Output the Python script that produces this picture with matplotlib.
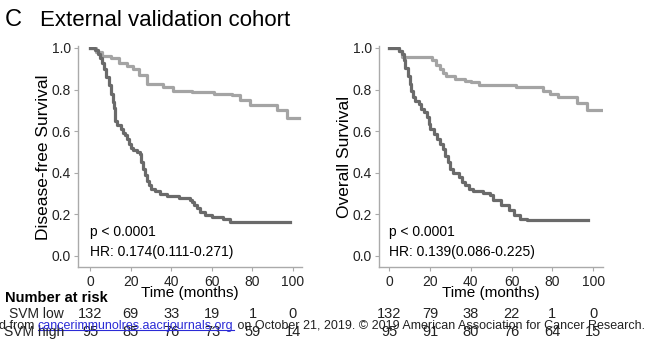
import matplotlib
matplotlib.use("Agg")
import matplotlib.pyplot as plt
import matplotlib.transforms as mtransforms
from matplotlib.lines import Line2D

plt.rcParams['font.family'] = ['Liberation Sans', 'DejaVu Sans']

# Disease-free survival (left panel)
dfs_high_t = [0, 3, 6, 10, 14, 18, 21, 24, 28, 36, 41, 50, 61, 70, 74, 79, 92, 97, 103]
dfs_high_s = [1.0, 0.98, 0.96, 0.95, 0.93, 0.915, 0.90, 0.87, 0.825, 0.81, 0.795, 0.79, 0.78, 0.775, 0.75, 0.725, 0.70, 0.665, 0.665]
dfs_low_t = [0, 2.5, 4, 5, 6, 7, 8, 9, 10, 11, 11.5, 12.3, 13, 15, 16, 17, 18, 19, 20, 21, 23, 24.6,
             25, 26, 27, 28, 29, 30, 32, 34.5, 38, 44, 49, 50, 51, 52.5, 54, 56.6, 60, 65.7, 69, 98.5]
dfs_low_s = [1.0, 0.99, 0.97, 0.95, 0.93, 0.90, 0.86, 0.82, 0.78, 0.74, 0.71, 0.65, 0.63, 0.61, 0.59, 0.58,
             0.56, 0.54, 0.52, 0.51, 0.50, 0.49, 0.45, 0.42, 0.39, 0.36, 0.34, 0.32, 0.31, 0.30, 0.29, 0.28,
             0.27, 0.26, 0.245, 0.23, 0.21, 0.195, 0.185, 0.18, 0.165, 0.165]

# Overall survival (right panel)
os_high_t = [0, 4.6, 6.2, 21, 23, 25, 26.5, 28, 32, 37, 40, 44, 62, 75.6, 79, 83, 92, 97, 105]
os_high_s = [1.0, 0.985, 0.957, 0.94, 0.92, 0.90, 0.88, 0.866, 0.853, 0.842, 0.834, 0.82, 0.81, 0.794,
             0.778, 0.762, 0.734, 0.703, 0.703]
os_low_t = [0, 4.6, 6.2, 7, 7.8, 9, 10, 10.8, 11.6, 12.7, 14.4, 15.5, 16.8, 18.5, 19.3, 20, 21.7, 23.4,
            25, 26.3, 27.5, 28.6, 29.6, 31.5, 34, 35.6, 37.3, 39, 41.3, 46, 49.5, 51, 55, 58.5, 61, 64,
            67.5, 97.7]
os_low_s = [1.0, 0.985, 0.97, 0.94, 0.906, 0.866, 0.826, 0.794, 0.762, 0.746, 0.73, 0.707, 0.69, 0.667,
            0.635, 0.61, 0.587, 0.563, 0.539, 0.515, 0.483, 0.451, 0.42, 0.40, 0.38, 0.356, 0.34, 0.324,
            0.31, 0.303, 0.292, 0.268, 0.244, 0.22, 0.196, 0.18, 0.172, 0.172]

risk_times = [0, 20, 40, 60, 80, 100]
dfs_risk_low = [132, 69, 33, 19, 1, 0]
dfs_risk_high = [95, 85, 76, 73, 59, 14]
os_risk_low = [132, 79, 38, 22, 1, 0]
os_risk_high = [95, 91, 80, 76, 64, 15]

dark = '#6a6a6a'
light = '#a4a4a4'
W, H = 650, 342

fig = plt.figure(figsize=(6.5, 3.42), dpi=100)


def make_axes(x0, x1, xlim):
    ax = fig.add_axes([x0 / W, 1 - 267 / H, (x1 - x0) / W, (267 - 46.5) / H])
    ax.set_xlim(*xlim)
    ax.set_ylim(-0.053, 1.007)
    for side in ['top', 'right']:
        ax.spines[side].set_visible(False)
    for side in ['left', 'bottom']:
        ax.spines[side].set_color('#aaaaaa')
        ax.spines[side].set_linewidth(1.0)
    ax.set_xticks(risk_times)
    ax.set_yticks([0, 0.2, 0.4, 0.6, 0.8, 1.0])
    ax.set_yticklabels(['0.0', '0.2', '0.4', '0.6', '0.8', '1.0'])
    ax.tick_params(colors='#aaaaaa', labelcolor='#222222', labelsize=10, length=3, pad=2.5)
    ax.set_xlabel('Time (months)', fontsize=11, labelpad=-2)
    return ax


ax1 = make_axes(78.3, 301.7, (-5.9, 104.3))
ax1.step(dfs_high_t, dfs_high_s, where='post', color=light, lw=2.3)
ax1.step(dfs_low_t, dfs_low_s, where='post', color=dark, lw=2.3)
ax1.set_ylabel('Disease-free Survival', fontsize=12.5, labelpad=0)
ax1.text(0, 0.115, 'p < 0.0001', fontsize=10, va='center')
ax1.text(0, 0.02, 'HR: 0.174(0.111-0.271)', fontsize=10, va='center')

ax2 = make_axes(379.3, 603.3, (-4.9, 105))
ax2.step(os_high_t, os_high_s, where='post', color=light, lw=2.3)
ax2.step(os_low_t, os_low_s, where='post', color=dark, lw=2.3)
ax2.set_ylabel('Overall Survival', fontsize=12.5, labelpad=0)
ax2.text(0, 0.115, 'p < 0.0001', fontsize=10, va='center')
ax2.text(0, 0.02, 'HR: 0.139(0.086-0.225)', fontsize=10, va='center')

# title
fig.text(5 / W, 1 - 20 / H, 'C', fontsize=17, va='center')
fig.text(40 / W, 1 - 20 / H, 'External validation cohort', fontsize=16, va='center')

# number at risk table
fig.text(5 / W, 1 - 298 / H, 'Number at risk', fontsize=10.5, fontweight='bold', va='center')
fig.text(64 / W, 1 - 314 / H, 'SVM low', fontsize=10, ha='right', va='center', color='#222222')
fig.text(64 / W, 1 - 332 / H, 'SVM high', fontsize=10, ha='right', va='center', color='#222222')
for ax, low, high in [(ax1, dfs_risk_low, dfs_risk_high), (ax2, os_risk_low, os_risk_high)]:
    trans = mtransforms.blended_transform_factory(ax.transData, fig.transFigure)
    for t, n_low, n_high in zip(risk_times, low, high):
        ax.text(t, 1 - 314 / H, str(n_low), transform=trans, fontsize=10.5, ha='center', va='center',
                color='#222222', clip_on=False)
        ax.text(t, 1 - 332 / H, str(n_high), transform=trans, fontsize=10.5, ha='center', va='center',
                color='#222222', clip_on=False)

# download watermark over the table
fig.canvas.draw()
renderer = fig.canvas.get_renderer()
wm_y = 1 - 326 / H
pieces = [('d from ', '#222222'), ('cancerimmunolres.aacrjournals.org', '#2b2bd6'),
          (' on October 21, 2019. \u00a9 2019 American Association for Cancer Research.', '#222222')]
x = -1 / W
for txt, col in pieces:
    t = fig.text(x, wm_y, txt, fontsize=9, va='center', color=col)
    bb = t.get_window_extent(renderer).transformed(fig.transFigure.inverted())
    if col != '#222222':
        fig.add_artist(Line2D([bb.x0, bb.x1], [bb.y0 + 2.5 / H, bb.y0 + 2.5 / H], color=col, lw=0.8,
                              transform=fig.transFigure))
    x = bb.x1

fig.savefig('out.png', dpi=100)
